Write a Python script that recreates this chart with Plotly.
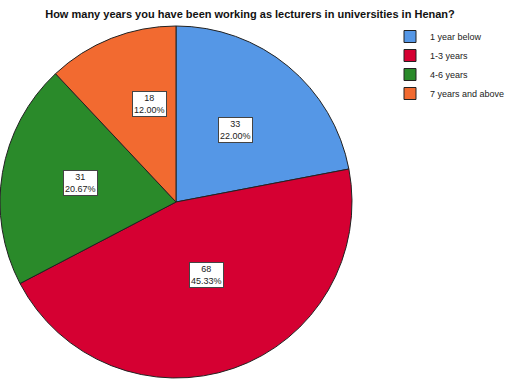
import numpy as np
import plotly.graph_objects as go

# Survey responses: years working as lecturer in Henan universities
categories = ["1 year below", "1-3 years", "4-6 years", "7 years and above"]
counts = [33, 68, 31, 18]
colors = ["#5597E6", "#D50032", "#2A8A2A", "#F26A30"]
# radial position of each value box, as a fraction of the radius
label_radius = [0.53, 0.52, 0.65, 0.68]

W, H = 515, 387
dom_x = [0.0, 352 / W]
dom_y = [(H - 382) / H, (H - 22) / H]

fig = go.Figure(
    go.Pie(
        labels=categories,
        values=counts,
        sort=False,
        direction="clockwise",
        rotation=0,
        marker=dict(colors=colors, line=dict(color="#222222", width=1)),
        textinfo="none",
        hoverinfo="label+value+percent",
        domain=dict(x=dom_x, y=dom_y),
    )
)

# value boxes placed at the middle angle of each slice
total = sum(counts)
cx_px = (dom_x[0] + dom_x[1]) / 2 * W
cy_px = (1 - (dom_y[0] + dom_y[1]) / 2) * H
r_px = min((dom_x[1] - dom_x[0]) * W, (dom_y[1] - dom_y[0]) * H) / 2
cum = 0
for n, rf in zip(counts, label_radius):
    mid = (cum + n / 2) / total * 2 * np.pi
    cum += n
    x_px = cx_px + np.sin(mid) * r_px * rf
    y_px = cy_px - np.cos(mid) * r_px * rf
    fig.add_annotation(
        x=x_px / W, y=1 - y_px / H, xref="paper", yref="paper",
        text=f"{n}<br>{n / total * 100:.2f}%",
        showarrow=False,
        font=dict(family="Arial, Liberation Sans, sans-serif", size=9, color="#222222"),
        bgcolor="white", bordercolor="#444444", borderwidth=1, borderpad=1,
        align="center",
    )

fig.update_layout(
    width=W, height=H,
    margin=dict(l=0, r=0, t=0, b=0, autoexpand=False),
    paper_bgcolor="white",
    title=dict(
        text="<b>How many years you have been working as lecturers in universities in Henan?</b>",
        x=250 / W, xanchor="center", y=1 - 14 / H, yanchor="middle",
        font=dict(family="Arial, Liberation Sans, sans-serif", size=11, color="#111111"),
    ),
    legend=dict(
        x=390 / W, xanchor="left", y=1 - 22 / H, yanchor="top",
        font=dict(family="Arial, Liberation Sans, sans-serif", size=9, color="#222222"),
        itemwidth=30, tracegroupgap=0,
        bgcolor="rgba(0,0,0,0)",
    ),
)

fig.write_html("out.html")
